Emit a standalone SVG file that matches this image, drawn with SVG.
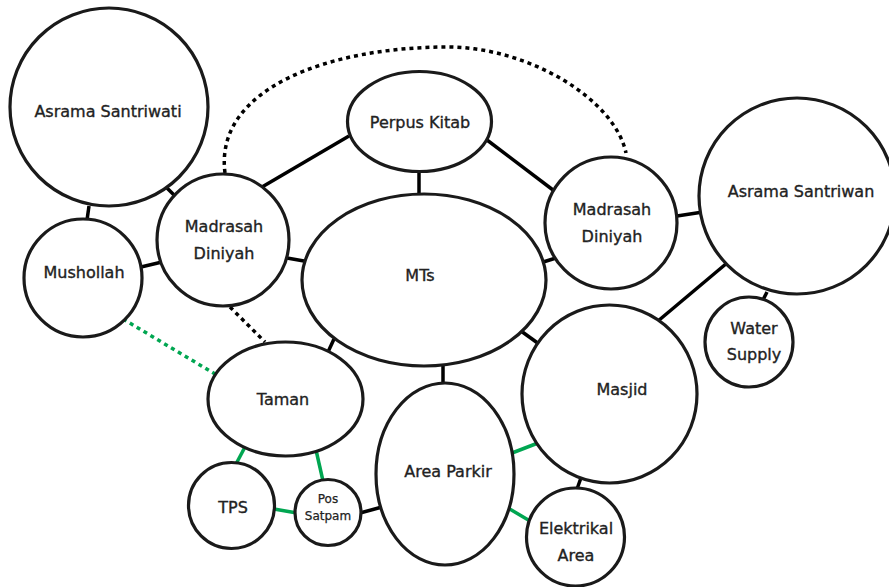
<svg xmlns="http://www.w3.org/2000/svg" width="889" height="587" viewBox="0 0 889 587">
<style>
.n{fill:#fff;stroke:#1a1a1a;stroke-width:3.2}
.t{font-family:"DejaVu Sans",sans-serif;font-size:16px;fill:#222;stroke:#222;stroke-width:0.35;text-anchor:middle}
.s{font-size:12px;stroke-width:0.25}
.c{stroke:#000;stroke-width:3.5;fill:none}
.g{stroke:#00a651;stroke-width:3.5;fill:none}
.d{stroke-dasharray:4 4}
</style>
<rect width="889" height="587" fill="#fff"/>
<g id="connectors">
<path class="c d" d="M225,173 C214,88 330,47 447,47 C530,47 615,100 626,153"/>
<line class="c d" x1="230" y1="307" x2="265" y2="342"/>
<line class="g d" x1="123" y1="319" x2="215" y2="374"/>
<line class="c" x1="167" y1="188" x2="176" y2="197"/>
<line class="c" x1="89" y1="206" x2="87" y2="220"/>
<line class="c" x1="141" y1="267" x2="162" y2="262"/>
<line class="c" x1="262" y1="187" x2="349" y2="136"/>
<line class="c" x1="419" y1="171" x2="419" y2="196"/>
<line class="c" x1="287" y1="258" x2="304" y2="261"/>
<line class="c" x1="487" y1="140" x2="553" y2="190"/>
<line class="c" x1="540" y1="263" x2="556" y2="258"/>
<line class="c" x1="677" y1="216" x2="703" y2="212"/>
<line class="c" x1="727" y1="263" x2="658" y2="321"/>
<line class="c" x1="767" y1="292" x2="763" y2="300"/>
<line class="c" x1="521" y1="331" x2="539" y2="344"/>
<line class="c" x1="443" y1="364" x2="443" y2="384"/>
<line class="c" x1="334" y1="339" x2="328" y2="352"/>
<line class="c" x1="582" y1="475" x2="577" y2="489"/>
<line class="c" x1="360" y1="513" x2="382" y2="507"/>
<line class="g" x1="245" y1="447" x2="236" y2="464"/>
<line class="g" x1="316" y1="450" x2="323" y2="481"/>
<line class="g" x1="274" y1="509" x2="297" y2="513"/>
<line class="g" x1="512" y1="453" x2="538" y2="443"/>
<line class="g" x1="508" y1="508" x2="530" y2="521"/>
</g>
<g id="asrama-santriwati"><circle class="n" cx="109" cy="107" r="99"/><text class="t" x="108" y="117">Asrama Santriwati</text></g>
<g id="mushollah"><circle class="n" cx="83" cy="278" r="59"/><text class="t" x="84" y="278">Mushollah</text></g>
<g id="madrasah-diniyah-1"><circle class="n" cx="223" cy="240" r="66"/><text class="t" x="224" y="232">Madrasah</text><text class="t" x="224" y="259">Diniyah</text></g>
<g id="perpus-kitab"><ellipse class="n" cx="419.5" cy="121.5" rx="72" ry="50"/><text class="t" x="420" y="128">Perpus Kitab</text></g>
<g id="mts"><ellipse class="n" cx="424" cy="280" rx="122" ry="86"/><text class="t" x="420" y="281">MTs</text></g>
<g id="madrasah-diniyah-2"><circle class="n" cx="611" cy="223" r="66"/><text class="t" x="612" y="215">Madrasah</text><text class="t" x="612" y="242">Diniyah</text></g>
<g id="asrama-santriwan"><circle class="n" cx="797" cy="196" r="98"/><text class="t" x="801" y="197">Asrama Santriwan</text></g>
<g id="water-supply"><ellipse class="n" cx="749" cy="342" rx="44" ry="45"/><text class="t" x="754" y="334">Water</text><text class="t" x="754" y="360">Supply</text></g>
<g id="masjid"><ellipse class="n" cx="609.5" cy="394" rx="87.5" ry="89"/><text class="t" x="622" y="395">Masjid</text></g>
<g id="taman"><ellipse class="n" cx="285.5" cy="399" rx="77.5" ry="57"/><text class="t" x="283" y="405">Taman</text></g>
<g id="area-parkir"><ellipse class="n" cx="445" cy="474" rx="69" ry="91"/><text class="t" x="448" y="477">Area Parkir</text></g>
<g id="tps"><circle class="n" cx="231.5" cy="505.5" r="43"/><text class="t" x="233" y="513">TPS</text></g>
<g id="pos-satpam"><circle class="n" cx="328" cy="512.5" r="33"/><text class="t s" x="328" y="503">Pos</text><text class="t s" x="328" y="520">Satpam</text></g>
<g id="elektrikal-area"><circle class="n" cx="575.5" cy="537" r="49"/><text class="t" x="576" y="534">Elektrikal</text><text class="t" x="576" y="561">Area</text></g>
</svg>
